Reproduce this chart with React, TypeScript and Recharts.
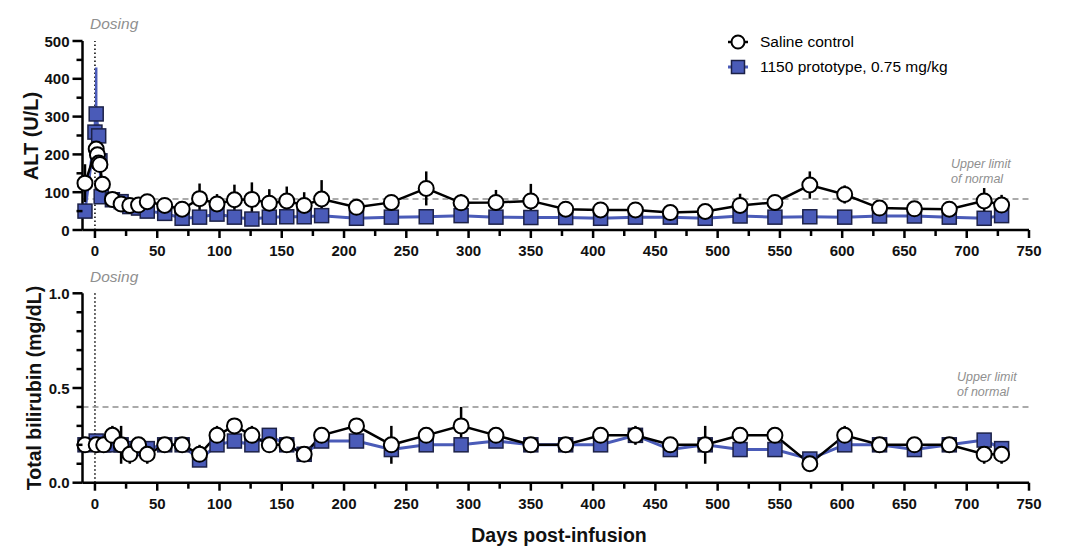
import React from 'react';
import {
  LineChart,
  Line,
  XAxis,
  YAxis,
  ErrorBar,
  ReferenceLine,
} from 'recharts';

const FONT = '"Liberation Sans", Arial, Helvetica, sans-serif';
const BLUE = '#4a5bb8';
const BLUE_EDGE = '#1c2147';
const GREY = '#8f8f8f';

// ---- ALT (U/L) ----
const altCtrlDays = [-8, 1, 2, 3, 4, 6, 14, 21, 28, 35, 42, 56, 70, 84, 98, 112, 126, 140, 154, 168, 182, 210, 238, 266, 294, 322, 350, 378, 406, 434, 462, 490, 518, 546, 574, 602, 630, 658, 686, 714, 728];
const altCtrl = [124, 214, 199, 177, 173, 121, 81, 69, 65, 66, 75, 65, 55, 83, 69, 80, 81, 71, 77, 65, 82, 60, 73, 110, 72, 73, 77, 55, 53, 53, 46, 49, 65, 73, 119, 94, 58, 56, 55, 77, 66];
const altCtrlErr = [50, 20, 15, 15, 12, 12, 10, 10, 8, 8, 12, 10, 10, 40, 26, 40, 45, 37, 38, 35, 50, 10, 8, 45, 23, 33, 45, 6, 5, 5, 5, 6, 31, 8, 36, 24, 8, 6, 6, 34, 27];

const altTrtDays = [-8, 0, 1, 3, 4, 5, 14, 21, 28, 35, 42, 56, 70, 84, 98, 112, 126, 140, 154, 168, 182, 210, 238, 266, 294, 322, 350, 378, 406, 434, 462, 490, 518, 546, 574, 602, 630, 658, 686, 714, 728];
const altTrt = [50, 259, 307, 249, 183, 88, 80, 75, 62, 58, 50, 44, 31, 34, 42, 34, 29, 34, 35, 35, 38, 31, 34, 35, 38, 34, 33, 33, 31, 34, 34, 31, 37, 34, 35, 34, 37, 37, 34, 31, 38];
const altTrtErr = [6, 40, 123, 30, 20, 15, 10, 10, 8, 8, 6, 5, 5, 5, 5, 5, 5, 5, 5, 5, 5, 4, 4, 4, 4, 8, 12, 4, 4, 4, 4, 4, 8, 4, 4, 4, 4, 4, 4, 4, 8];

// ---- Total bilirubin (mg/dL) ----
const biliDays = [-8, 1, 7, 14, 21, 28, 35, 42, 56, 70, 84, 98, 112, 126, 140, 154, 168, 182, 210, 238, 266, 294, 322, 350, 378, 406, 434, 462, 490, 518, 546, 574, 602, 630, 658, 686, 714, 728];
const biliCtrl = [0.2, 0.2, 0.2, 0.25, 0.2, 0.15, 0.2, 0.15, 0.2, 0.2, 0.15, 0.25, 0.3, 0.25, 0.2, 0.2, 0.15, 0.25, 0.3, 0.2, 0.25, 0.3, 0.25, 0.2, 0.2, 0.25, 0.25, 0.2, 0.2, 0.25, 0.25, 0.1, 0.25, 0.2, 0.2, 0.2, 0.15, 0.15];
const biliCtrlErr = [0.02, 0.02, 0.02, 0.05, 0.1, 0.05, 0.02, 0.05, 0.02, 0.02, 0.05, 0.05, 0.02, 0.05, 0.02, 0.02, 0.04, 0.04, 0.02, 0.1, 0.03, 0.1, 0.03, 0.01, 0.01, 0.03, 0.05, 0.02, 0.1, 0.04, 0.03, 0.02, 0.05, 0.02, 0.02, 0.02, 0.05, 0.05];
const biliTrt = [0.2, 0.22, 0.2, 0.2, 0.2, 0.18, 0.18, 0.18, 0.2, 0.2, 0.12, 0.2, 0.22, 0.2, 0.25, 0.2, 0.15, 0.22, 0.22, 0.175, 0.2, 0.2, 0.22, 0.2, 0.2, 0.2, 0.25, 0.175, 0.2, 0.175, 0.175, 0.125, 0.2, 0.2, 0.175, 0.2, 0.225, 0.18];
const biliTrtErr = [0.02, 0.03, 0.02, 0.02, 0.02, 0.02, 0.03, 0.02, 0.04, 0.02, 0.02, 0.02, 0.02, 0.02, 0.02, 0.02, 0.02, 0.02, 0.02, 0.02, 0.02, 0.02, 0.02, 0.01, 0.01, 0.02, 0.03, 0.02, 0.02, 0.02, 0.02, 0.02, 0.03, 0.02, 0.02, 0.02, 0.02, 0.02];

const xTicks = [0, 25, 50, 75, 100, 125, 150, 175, 200, 225, 250, 275, 300, 325, 350, 375, 400, 425, 450, 475, 500, 525, 550, 575, 600, 625, 650, 675, 700, 725, 750];
const altTicks = [0, 50, 100, 150, 200, 250, 300, 350, 400, 450, 500];
const biliTicks = [0, 0.1, 0.2, 0.3, 0.4, 0.5, 0.6, 0.7, 0.8, 0.9, 1.0];

const ALT_ULN = 82;
const BILI_ULN = 0.4;

const toRows = (days: number[], vals: number[], errs: number[]) =>
  days.map((d, i) => ({ day: d, v: vals[i], err: errs[i] }));

const TICK_SIZE = 10;
const TICK_MARGIN = 2;
const OFF = TICK_SIZE + TICK_MARGIN;

function XTick(props: any) {
  const { x, y, payload } = props;
  const v = payload.value;
  const major = v % 50 === 0;
  const axisY = y - OFF;
  return (
    <g>
      <line x1={x} x2={x} y1={axisY} y2={axisY + (major ? 8 : 6)} stroke="#000" strokeWidth={2.5} />
      {major && (
        <text x={x} y={axisY + 26} textAnchor="middle" fontFamily={FONT} fontWeight="bold" fontSize={15} fill="#111">
          {v}
        </text>
      )}
    </g>
  );
}

function makeYTick(isMajor: (v: number) => boolean, fmt: (v: number) => string) {
  return (props: any) => {
    const { x, y, payload } = props;
    const v = payload.value;
    const major = isMajor(v);
    const axisX = x + OFF;
    return (
      <g>
        <line x1={axisX - (major ? 10 : 6)} x2={axisX} y1={y} y2={y} stroke="#000" strokeWidth={2.5} />
        {major && (
          <text x={axisX - 13} y={y + 5.5} textAnchor="end" fontFamily={FONT} fontWeight="bold" fontSize={15} fill="#111">
            {fmt(v)}
          </text>
        )}
      </g>
    );
  };
}

const AltTick = makeYTick((v) => v % 100 === 0, (v) => String(v));
const BiliTick = makeYTick((v) => Math.round(v * 10) % 5 === 0, (v) => v.toFixed(1));

const circleDot = (props: any) => {
  const { cx, cy, index } = props;
  return <circle key={`c${index}`} cx={cx} cy={cy} r={7.5} fill="#fff" stroke="#000" strokeWidth={2} />;
};

const squareDot = (props: any) => {
  const { cx, cy, index } = props;
  return (
    <rect key={`s${index}`} x={cx - 7} y={cy - 7} width={14} height={14} fill={BLUE} stroke={BLUE_EDGE} strokeWidth={1.5} />
  );
};

const textStyle: React.CSSProperties = { position: 'absolute', fontFamily: FONT, whiteSpace: 'nowrap' };

function Notes({ dosingTop, ulnTop, ulnLeft }: { dosingTop: number; ulnTop: number; ulnLeft: number }) {
  return (
    <>
      <div style={{ ...textStyle, left: 90, top: dosingTop, fontSize: 15.5, fontStyle: 'italic', color: GREY }}>Dosing</div>
      <div style={{ ...textStyle, left: ulnLeft, top: ulnTop, fontSize: 12.5, fontStyle: 'italic', color: GREY, lineHeight: '15px' }}>
        Upper limit
        <br />
        of normal
      </div>
    </>
  );
}

export default function App() {
  const altCtrlData = toRows(altCtrlDays, altCtrl, altCtrlErr);
  const altTrtData = toRows(altTrtDays, altTrt, altTrtErr);
  const biliCtrlData = toRows(biliDays, biliCtrl, biliCtrlErr);
  const biliTrtData = toRows(biliDays, biliTrt, biliTrtErr);

  return (
    <div style={{ position: 'absolute', left: 0, top: 0, width: 1085, height: 560, background: '#fff', overflow: 'hidden' }}>
      {/* top panel: ALT */}
      <div style={{ position: 'absolute', left: 0, top: 0 }}>
        <LineChart width={1085} height={260} margin={{ top: 41, right: 56, bottom: 0, left: 0 }}>
          <XAxis
            type="number"
            dataKey="day"
            domain={[-10, 750]}
            ticks={xTicks}
            interval={0}
            tickSize={TICK_SIZE}
            tickMargin={TICK_MARGIN}
            tickLine={false}
            tick={<XTick />}
            axisLine={{ stroke: '#000', strokeWidth: 2.5 }}
            height={30}
          />
          <YAxis
            type="number"
            domain={[0, 500]}
            ticks={altTicks}
            interval={0}
            width={82.5}
            tickSize={TICK_SIZE}
            tickMargin={TICK_MARGIN}
            tickLine={false}
            tick={<AltTick />}
            axisLine={{ stroke: '#000', strokeWidth: 2.5 }}
          />
          <ReferenceLine x={0} stroke="#000" strokeWidth={1.5} strokeDasharray="1.5 2.5" />
          <ReferenceLine y={ALT_ULN} stroke={GREY} strokeWidth={1.5} strokeDasharray="6 4" />
          <Line
            data={altTrtData}
            dataKey="v"
            type="linear"
            stroke={BLUE}
            strokeWidth={3}
            dot={squareDot}
            isAnimationActive={false}
          >
            <ErrorBar dataKey="err" width={0} stroke={BLUE} strokeWidth={2.5} direction="y" isAnimationActive={false} />
          </Line>
          <Line
            data={altCtrlData}
            dataKey="v"
            type="linear"
            stroke="#000"
            strokeWidth={2.5}
            dot={circleDot}
            isAnimationActive={false}
          >
            <ErrorBar dataKey="err" width={0} stroke="#000" strokeWidth={2.5} direction="y" isAnimationActive={false} />
          </Line>
        </LineChart>
      </div>

      {/* bottom panel: bilirubin */}
      <div style={{ position: 'absolute', left: 0, top: 260 }}>
        <LineChart width={1085} height={260} margin={{ top: 33.3, right: 56, bottom: 0, left: 0 }}>
          <XAxis
            type="number"
            dataKey="day"
            domain={[-10, 750]}
            ticks={xTicks}
            interval={0}
            tickSize={TICK_SIZE}
            tickMargin={TICK_MARGIN}
            tickLine={false}
            tick={<XTick />}
            axisLine={{ stroke: '#000', strokeWidth: 2.5 }}
            height={37.3}
          />
          <YAxis
            type="number"
            domain={[0, 1]}
            ticks={biliTicks}
            interval={0}
            width={82.5}
            tickSize={TICK_SIZE}
            tickMargin={TICK_MARGIN}
            tickLine={false}
            tick={<BiliTick />}
            axisLine={{ stroke: '#000', strokeWidth: 2.5 }}
          />
          <ReferenceLine x={0} stroke="#000" strokeWidth={1.5} strokeDasharray="1.5 2.5" />
          <ReferenceLine y={BILI_ULN} stroke={GREY} strokeWidth={1.5} strokeDasharray="6 4" />
          <Line
            data={biliTrtData}
            dataKey="v"
            type="linear"
            stroke={BLUE}
            strokeWidth={3}
            dot={squareDot}
            isAnimationActive={false}
          >
            <ErrorBar dataKey="err" width={0} stroke={BLUE} strokeWidth={2.5} direction="y" isAnimationActive={false} />
          </Line>
          <Line
            data={biliCtrlData}
            dataKey="v"
            type="linear"
            stroke="#000"
            strokeWidth={2.5}
            dot={circleDot}
            isAnimationActive={false}
          >
            <ErrorBar dataKey="err" width={0} stroke="#000" strokeWidth={2.5} direction="y" isAnimationActive={false} />
          </Line>
        </LineChart>
      </div>

      <Notes dosingTop={15} ulnTop={157} ulnLeft={951} />
      <Notes dosingTop={268} ulnTop={370} ulnLeft={957} />

      {/* axis titles */}
      <div
        style={{
          ...textStyle,
          left: 31,
          top: 136,
          fontSize: 20,
          fontWeight: 'bold',
          color: '#111',
          transform: 'translate(-50%, -50%) rotate(-90deg)',
        }}
      >
        ALT (U/L)
      </div>
      <div
        style={{
          ...textStyle,
          left: 34,
          top: 388,
          fontSize: 19.5,
          fontWeight: 'bold',
          color: '#111',
          transform: 'translate(-50%, -50%) rotate(-90deg)',
        }}
      >
        Total bilirubin (mg/dL)
      </div>
      <div style={{ ...textStyle, left: 559, top: 535, fontSize: 19.5, fontWeight: 'bold', color: '#111', transform: 'translate(-50%, -50%)' }}>
        Days post-infusion
      </div>

      {/* legend */}
      <svg style={{ position: 'absolute', left: 720, top: 28 }} width={40} height={52}>
        <line x1={8} x2={28} y1={14} y2={14} stroke="#000" strokeWidth={2.5} />
        <circle cx={18} cy={14} r={6.5} fill="#fff" stroke="#000" strokeWidth={2} />
        <line x1={8} x2={28} y1={39} y2={39} stroke={BLUE} strokeWidth={3} />
        <rect x={11.5} y={32.5} width={13} height={13} fill={BLUE} stroke={BLUE_EDGE} strokeWidth={1.5} />
      </svg>
      <div style={{ ...textStyle, left: 760, top: 33, fontSize: 15.5 }}>Saline control</div>
      <div style={{ ...textStyle, left: 760, top: 58, fontSize: 15.5 }}>1150 prototype, 0.75 mg/kg</div>
    </div>
  );
}
